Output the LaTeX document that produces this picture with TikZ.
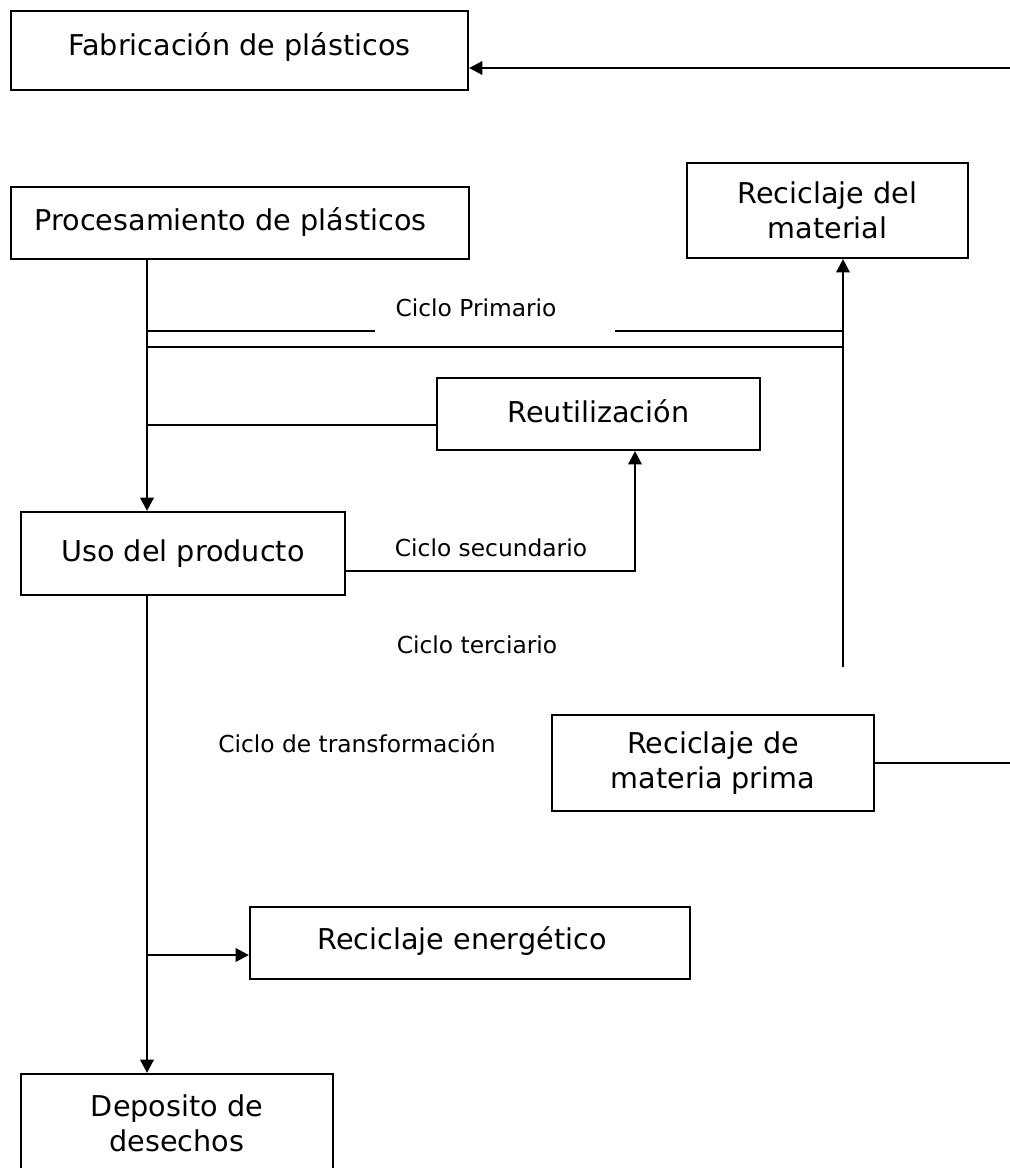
\documentclass[tikz,border=0pt]{standalone}
\usepackage{fontspec}
\setmainfont{DejaVu Sans}
\usetikzlibrary{arrows.meta,positioning}
\tikzset{
  caja/.style={draw,line width=1.6pt,align=center,inner sep=0pt,font=\fontsize{21.5}{26}\selectfont},
  ciclo/.style={font=\fontsize{17.5}{21}\selectfont,inner sep=0pt},
  linea/.style={line width=1.6pt},
  flecha/.style={line width=1.9pt,-{Triangle[length=10pt,width=10pt]}}
}
\begin{document}
\begin{tikzpicture}[x=0.75pt,y=-0.75pt]
\useasboundingbox (0,0) rectangle (1010,1168);
\clip (0,0) rectangle (1010,1168);
% cajas
\node[caja,minimum width=342.75pt,minimum height=59.25pt] (fab) at (239.5,50.5) {\raisebox{10pt}{Fabricación de plásticos}};
\node[caja,minimum width=343.5pt,minimum height=54pt] (proc) at (240,223) {\hspace*{-14pt}\raisebox{6pt}{Procesamiento de plásticos}};
\node[caja,minimum width=210.75pt,minimum height=71.25pt] (recmat) at (827.5,210.5) {Reciclaje del\\material};
\node[caja,minimum width=242.25pt,minimum height=54pt] (reut) at (598.5,414) {\raisebox{5pt}{Reutilización}};
\node[caja,minimum width=243pt,minimum height=62.25pt] (uso) at (183,553.5) {Uso del producto};
\node[caja,minimum width=241.5pt,minimum height=72pt] (recprima) at (713,763) {Reciclaje de\\materia prima};
\node[caja,minimum width=330pt,minimum height=54pt] (recener) at (470,943) {\hspace*{-12pt}\raisebox{7pt}{Reciclaje energético}};
\node[caja,minimum width=234pt,minimum height=73.5pt] (depo) at (177,1123) {Deposito de\\desechos};
% textos de los ciclos
\node[ciclo] (prim) at (476,308) {Ciclo Primario};
\node[ciclo] (sec) at (491,548) {Ciclo secundario};
\node[ciclo] (ter) at (477,645) {Ciclo terciario};
\node[ciclo] (trans) at (357,743) {Ciclo de transformación};
% puntos de paso
\coordinate (sp) at (147,0);
\coordinate (borde) at (1010,0);
\coordinate (fabin) at (1010,68);
\coordinate (tx) at (843,667);
\coordinate (p1) at (0,331);
\coordinate (p2) at (0,347);
\coordinate (r1) at (0,425);
\coordinate (s1) at (0,571);
\coordinate (s2) at (635,571);
\coordinate (s3) at (635,523);
\coordinate (e1) at (0,955);
% conexiones
\draw[flecha] (fabin) -- (fabin -| fab.east);
\draw[flecha] (sp |- proc.south) -- (sp |- uso.north);
\draw[linea] (sp |- p1) -- (375,331);
\draw[linea] (615,331) -- (tx |- p1);
\draw[linea] (sp |- p2) -- (tx |- p2);
\draw[flecha] (tx) -- (tx |- recmat.south);
\draw[linea] (sp |- r1) -- (reut.west |- r1);
\draw[line width=1.1pt] (uso.east |- s1) -- (s2) -- (s3);
\draw[linea] (uso.east |- s1) -- (375,571);
\draw[flecha] (s3) -- (s3 |- reut.south);
\draw[flecha] (sp |- uso.south) -- (sp |- depo.north);
\draw[flecha] (sp |- e1) -- (recener.west |- e1);
\draw[linea] (recprima.east) -- (recprima.east -| borde);
\end{tikzpicture}
\end{document}
